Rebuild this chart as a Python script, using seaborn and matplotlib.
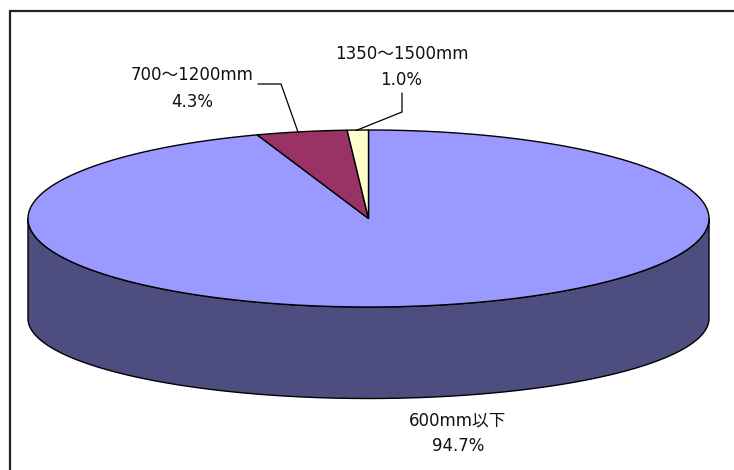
import numpy as np
import matplotlib
matplotlib.use("Agg")
import matplotlib.pyplot as plt
from matplotlib.patches import Polygon
import seaborn as sns

# Pipe diameter share
categories = ["600mm以下", "700～1200mm", "1350～1500mm"]
shares = [94.7, 4.3, 1.0]
share_labels = ["94.7%", "4.3%", "1.0%"]

top_colors = ["#9999FF", "#993366", "#FFFFCC"]
side_colors = ["#4D4D80", "#4D1A33", "#808066"]

sns.set_theme(style="white")
plt.rcParams["font.family"] = ["DejaVu Sans", "Noto Sans CJK JP"]

W, H = 734, 470
fig = plt.figure(figsize=(W / 100, H / 100), dpi=100)
ax = fig.add_axes([0, 0, 1, 1])
ax.set_xlim(0, W)
ax.set_ylim(H, 0)
ax.axis("off")

# chart frame (runs off the right and bottom edges)
ax.plot([9.5, 9.5, W + 5], [H + 5, 10.5, 10.5], color="#222222", lw=1.6,
        solid_joinstyle="miter")

# ellipse geometry of the tilted disc (pixel units)
cx, cy, rx, ry = 368.5, 218.5, 340.5, 88.5
cyb, ryb = 318.5, 80.0


def top_pt(t):
    r = np.radians(t)
    return cx + rx * np.sin(r), cy - ry * np.cos(r)


def bot_pt(t):
    r = np.radians(t)
    return cx + rx * np.sin(r), cyb - ryb * np.cos(r)


total = float(sum(shares))
bounds = np.concatenate([[0.0], np.cumsum(shares) / total * 360.0])

# side walls (front half only, 90..270 deg clockwise from 12 o'clock)
for i in range(len(shares)):
    a, b = max(bounds[i], 90.0), min(bounds[i + 1], 270.0)
    if b <= a:
        continue
    ts = np.linspace(a, b, 200)
    top = np.array([top_pt(t) for t in ts])
    bot = np.array([bot_pt(t) for t in ts[::-1]])
    ax.add_patch(Polygon(np.vstack([top, bot]), closed=True,
                         facecolor=side_colors[i], edgecolor="black",
                         lw=1.0, joinstyle="round"))

# top face wedges
for i in range(len(shares)):
    ts = np.linspace(bounds[i], bounds[i + 1], 400)
    arc = np.array([top_pt(t) for t in ts])
    pts = np.vstack([[cx, cy], arc])
    ax.add_patch(Polygon(pts, closed=True, facecolor=top_colors[i],
                         edgecolor="black", lw=1.0, joinstyle="round"))

# labels: name on the first line, share below it
label_pos = [(458, 420, 446), (192, 75, 102), (401.5, 54, 80)]
for name, pct, (lx, y1, y2) in zip(categories, share_labels, label_pos):
    ax.text(lx, y1, name, ha="center", va="center", fontsize=12, color="#111111")
    ax.text(lx, y2, pct, ha="center", va="center", fontsize=12, color="#111111")

# leader lines for the two thin slices
ax.plot([258, 281, 298], [84, 84, 132], color="black", lw=0.9)
ax.plot([402, 402, 356], [93, 112, 130.5], color="black", lw=0.9)

fig.savefig("out.png", dpi=100)
